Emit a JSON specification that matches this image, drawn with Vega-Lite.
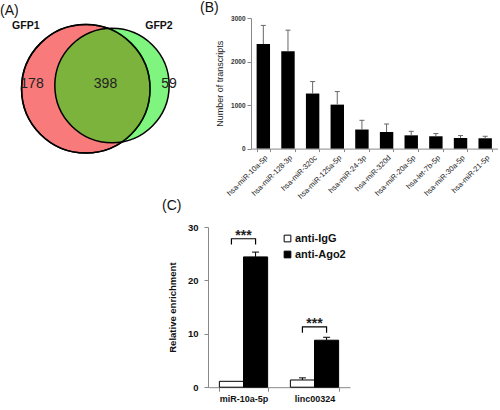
{
  "$schema": "https://vega.github.io/schema/vega-lite/v6.json",
  "padding": {"top": 1, "left": 0, "right": 0, "bottom": 0},
  "background": "white",
  "config": {
    "view": {"stroke": null},
    "font": "Liberation Sans",
    "title": {"fontSize": 14, "fontWeight": "normal", "anchor": "start", "frame": "group", "color": "#111"},
    "axis": {"grid": false, "domainColor": "#888", "tickColor": "#888", "labelOverlap": false}
  },
  "bounds": "flush",
  "spacing": 209,
  "resolve": {"legend": {"fill": "independent"}},
  "datasets": {
    "venn": [
      {"set": "GFP1", "cx": 85.8, "cy": 87.5},
      {"set": "GFP2", "cx": 112, "cy": 84.2}
    ],
    "vennNames": [
      {"label": "GFP1", "cx": 25.8, "cy": 24.5},
      {"label": "GFP2", "cx": 159, "cy": 24.5}
    ],
    "vennCounts": [
      {"label": "178", "cx": 32, "cy": 83},
      {"label": "398", "cx": 105.5, "cy": 83},
      {"label": "59", "cx": 169, "cy": 83}
    ],
    "mirna": [
      {"mirna": "hsa-miR-10a-5p", "transcripts": 2400, "upper": 2830},
      {"mirna": "hsa-miR-128-3p", "transcripts": 2235, "upper": 2720},
      {"mirna": "hsa-miR-320c", "transcripts": 1265, "upper": 1540},
      {"mirna": "hsa-miR-125a-5p", "transcripts": 1010, "upper": 1310},
      {"mirna": "hsa-miR-24-3p", "transcripts": 438, "upper": 650},
      {"mirna": "hsa-miR-320d", "transcripts": 381, "upper": 565},
      {"mirna": "hsa-miR-20a-5p", "transcripts": 305, "upper": 397},
      {"mirna": "hsa-let-7b-5p", "transcripts": 283, "upper": 345},
      {"mirna": "hsa-miR-30a-5p", "transcripts": 244, "upper": 299},
      {"mirna": "hsa-miR-21-5p", "transcripts": 237, "upper": 283}
    ],
    "rip": [
      {"gene": "miR-10a-5p", "group": "anti-IgG", "enrichment": 1.1},
      {"gene": "miR-10a-5p", "group": "anti-Ago2", "enrichment": 24.4, "upper": 25.3},
      {"gene": "linc00324", "group": "anti-IgG", "enrichment": 1.35, "upper": 1.75},
      {"gene": "linc00324", "group": "anti-Ago2", "enrichment": 8.8, "upper": 9.35}
    ],
    "brackets": [
      {"gene": "miR-10a-5p", "group": "anti-IgG", "enrichment": 26.7, "br": 1, "ord": 1},
      {"gene": "miR-10a-5p", "group": "anti-IgG", "enrichment": 27.8, "br": 1, "ord": 2},
      {"gene": "miR-10a-5p", "group": "anti-Ago2", "enrichment": 27.8, "br": 1, "ord": 3},
      {"gene": "miR-10a-5p", "group": "anti-Ago2", "enrichment": 26.7, "br": 1, "ord": 4},
      {"gene": "linc00324", "group": "anti-IgG", "enrichment": 10.2, "br": 2, "ord": 1},
      {"gene": "linc00324", "group": "anti-IgG", "enrichment": 11.3, "br": 2, "ord": 2},
      {"gene": "linc00324", "group": "anti-Ago2", "enrichment": 11.3, "br": 2, "ord": 3},
      {"gene": "linc00324", "group": "anti-Ago2", "enrichment": 10.2, "br": 2, "ord": 4}
    ],
    "stars": [
      {"gene": "miR-10a-5p", "enrichment": 27.5, "label": "***"},
      {"gene": "linc00324", "enrichment": 11.1, "label": "***"}
    ]
  },
  "vconcat": [
    {
      "bounds": "flush",
      "spacing": 51,
      "resolve": {"legend": {"fill": "independent"}},
      "hconcat": [
        {
          "width": 200,
          "height": 130.6,
          "title": {"text": "(A)", "offset": 0, "dx": 0},
          "encoding": {
            "x": {"field": "cx", "type": "quantitative", "scale": {"domain": [0, 200], "nice": false, "zero": false}, "axis": null},
            "y": {"field": "cy", "type": "quantitative", "scale": {"domain": [16.7, 147.3], "reverse": true, "nice": false, "zero": false}, "axis": null}
          },
          "layer": [
            {
              "data": {"name": "venn"},
              "transform": [{"filter": "datum.set === 'GFP1'"}],
              "mark": {"type": "point", "shape": "circle", "filled": true, "size": 16513, "fill": "#f87a7a", "stroke": "black", "strokeWidth": 1.5, "opacity": 1}
            },
            {
              "data": {"name": "venn"},
              "transform": [{"filter": "datum.set === 'GFP2'"}],
              "mark": {"type": "point", "shape": "circle", "filled": true, "size": 13070, "fill": "#00ec00", "fillOpacity": 0.5, "stroke": "black", "strokeOpacity": 1, "strokeWidth": 1.5, "opacity": 1}
            },
            {
              "data": {"name": "venn"},
              "transform": [{"filter": "datum.set === 'GFP1'"}],
              "mark": {"type": "point", "shape": "circle", "filled": false, "size": 16513, "stroke": "black", "strokeWidth": 1.5, "opacity": 1}
            },
            {
              "data": {"name": "vennNames"},
              "mark": {"type": "text", "fontSize": 10.5, "fontWeight": "bold", "color": "#111", "baseline": "middle", "align": "center"},
              "encoding": {"text": {"field": "label"}}
            },
            {
              "data": {"name": "vennCounts"},
              "mark": {"type": "text", "fontSize": 14, "color": "#222", "baseline": "middle", "align": "center"},
              "encoding": {"text": {"field": "label"}}
            }
          ]
        },
        {
          "width": 246.5,
          "height": 130.6,
          "title": {"text": "(B)", "offset": 0, "dx": -51},
          "data": {"name": "mirna"},
          "encoding": {
            "x": {
              "field": "mirna", "type": "nominal", "sort": null,
              "scale": {"paddingInner": 0.456, "paddingOuter": 0.228},
              "axis": {"title": null, "labelAngle": -45, "tickBand": "extent", "labelFontSize": 7.5, "labelColor": "#222", "tickSize": 3, "labelPadding": 2}
            }
          },
          "layer": [
            {
              "mark": {"type": "bar", "color": "black"},
              "encoding": {
                "y": {
                  "field": "transcripts", "type": "quantitative",
                  "scale": {"domain": [0, 3000], "nice": false},
                  "axis": {"title": "Number of transcripts", "values": [0, 500, 1000, 1500, 2000, 2500, 3000], "format": "d", "labelFontSize": 6.5, "labelFontWeight": "bold", "labelColor": "#333", "titleFontSize": 9, "titleFontWeight": "normal", "titleColor": "#222", "tickSize": 4, "titlePadding": 6}
                }
              }
            },
            {
              "mark": {"type": "rule", "color": "#666", "strokeWidth": 1},
              "encoding": {
                "y": {"field": "transcripts", "type": "quantitative"},
                "y2": {"field": "upper"}
              }
            },
            {
              "mark": {"type": "tick", "color": "#666", "size": 5, "thickness": 1, "opacity": 1},
              "encoding": {
                "y": {"field": "upper", "type": "quantitative"}
              }
            }
          ]
        }
      ]
    },
    {
      "bounds": "flush",
      "spacing": 51,
      "resolve": {"legend": {"fill": "independent"}},
      "hconcat": [
        {
          "width": 157,
          "height": 160.2,
          "data": {"values": []},
          "mark": "text",
          "encoding": {}
        },
        {
          "width": 142,
          "height": 160.2,
          "title": {"text": "(C)", "offset": 9, "dx": -46},
          "encoding": {
            "x": {
              "field": "gene", "type": "nominal", "sort": null,
              "scale": {"domain": ["miR-10a-5p", "linc00324"], "paddingInner": 0.32, "paddingOuter": 0.16},
              "axis": {"title": null, "labelAngle": 0, "tickBand": "extent", "labelFontSize": 9, "labelFontWeight": "bold", "labelColor": "#111", "tickSize": 4, "labelPadding": 3}
            }
          },
          "layer": [
            {
              "data": {"name": "rip"},
              "mark": {"type": "bar", "stroke": "black", "strokeWidth": 1},
              "encoding": {
                "xOffset": {"field": "group", "type": "nominal", "scale": {"domain": ["anti-IgG", "anti-Ago2"], "paddingInner": 0, "paddingOuter": 0}},
                "y": {
                  "field": "enrichment", "type": "quantitative",
                  "scale": {"domain": [0, 30], "nice": false},
                  "axis": {"title": "Relative enrichment", "values": [0, 5, 10, 15, 20, 25, 30], "labelFontSize": 9.5, "labelFontWeight": "bold", "labelColor": "#111", "titleFontSize": 9.5, "titleFontWeight": "bold", "titleColor": "#111", "tickSize": 4, "labelPadding": 6, "titlePadding": 10}
                },
                "fill": {
                  "field": "group", "type": "nominal",
                  "scale": {"domain": ["anti-IgG", "anti-Ago2"], "range": ["white", "black"]},
                  "legend": {"title": null, "orient": "none", "legendX": 74, "legendY": 6, "symbolType": "square", "symbolSize": 45, "symbolStrokeColor": "black", "symbolStrokeWidth": 1, "labelFontSize": 11, "labelFontWeight": "bold", "labelColor": "#111", "rowPadding": 4, "labelOffset": 2}
                }
              }
            },
            {
              "data": {"name": "rip"},
              "transform": [{"filter": "isValid(datum.upper)"}],
              "mark": {"type": "rule", "color": "black", "strokeWidth": 1},
              "encoding": {
                "xOffset": {"field": "group", "type": "nominal"},
                "y": {"field": "enrichment", "type": "quantitative"},
                "y2": {"field": "upper"}
              }
            },
            {
              "data": {"name": "rip"},
              "transform": [{"filter": "isValid(datum.upper)"}],
              "mark": {"type": "tick", "color": "black", "size": 7, "thickness": 1, "opacity": 1},
              "encoding": {
                "xOffset": {"field": "group", "type": "nominal"},
                "y": {"field": "upper", "type": "quantitative"}
              }
            },
            {
              "data": {"name": "brackets"},
              "mark": {"type": "line", "color": "black", "strokeWidth": 1.2},
              "encoding": {
                "xOffset": {"field": "group", "type": "nominal"},
                "y": {"field": "enrichment", "type": "quantitative"},
                "detail": {"field": "br", "type": "nominal"},
                "order": {"field": "ord", "type": "quantitative"}
              }
            },
            {
              "data": {"name": "stars"},
              "mark": {"type": "text", "fontSize": 14, "fontWeight": "bold", "color": "#222", "baseline": "alphabetic", "align": "center"},
              "encoding": {
                "y": {"field": "enrichment", "type": "quantitative"},
                "text": {"field": "label"}
              }
            }
          ]
        }
      ]
    }
  ]
}
